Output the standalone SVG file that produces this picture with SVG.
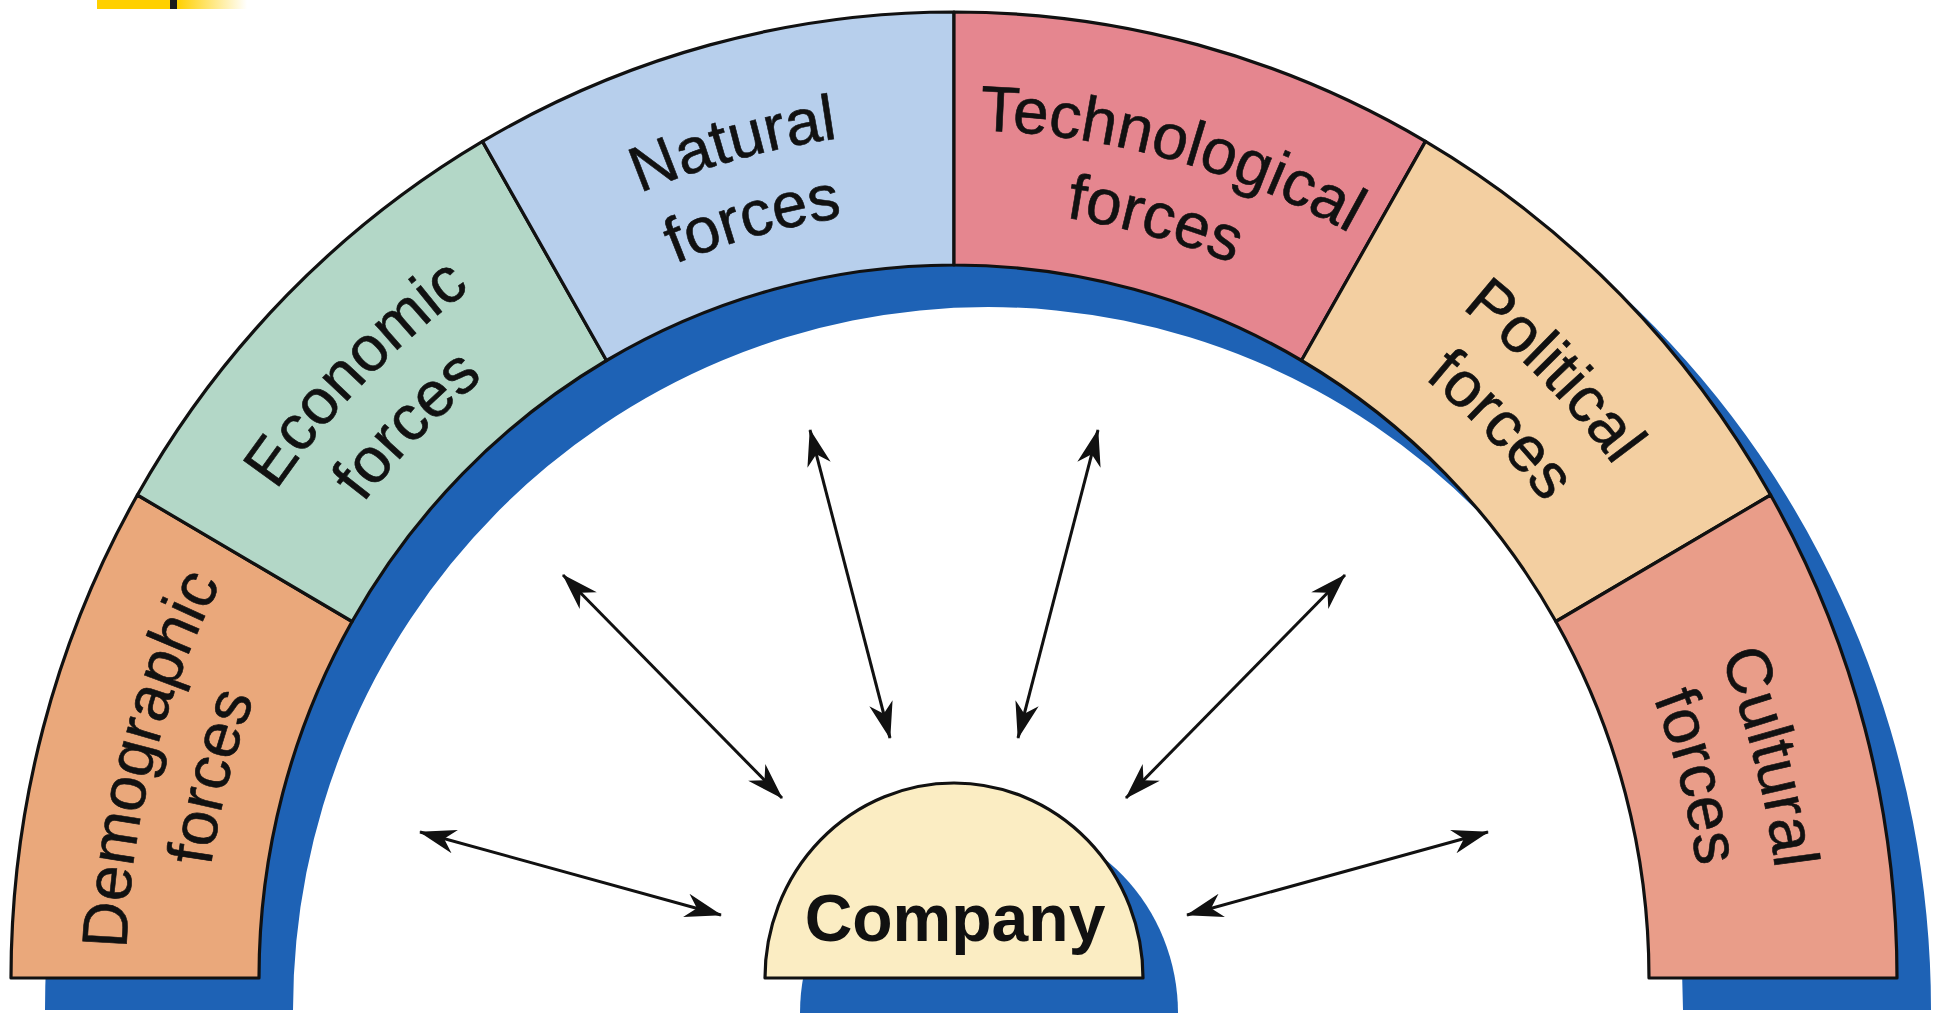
<svg xmlns="http://www.w3.org/2000/svg" width="1939" height="1013" viewBox="0 0 1939 1013">
<style>
.seg{stroke:#111;stroke-width:3.2;stroke-linejoin:round}
.lbl{font-family:"Liberation Sans",Arial,sans-serif;font-size:64px;fill:#111;stroke:#111;stroke-width:0.6}
.arrow{stroke:#111;stroke-width:3;fill:none;marker-start:url(#ah);marker-end:url(#ah)}
.shadow{fill:#1E62B5}
</style>
<defs>
<marker id="ah" markerUnits="userSpaceOnUse" markerWidth="44" markerHeight="30" viewBox="-40 -15 42 30" refX="0" refY="0" orient="auto-start-reverse" overflow="visible">
<path d="M1,0 L-36,-12 L-25,0 L-36,12 Z" fill="#111"/>
</marker>
<linearGradient id="fade" x1="0" y1="0" x2="1" y2="0">
<stop offset="0" stop-color="#FFD000"/>
<stop offset="1" stop-color="#FFFFFF"/>
</linearGradient>
<path id="a1-15" d="M236.9,1402 A828,848 0 0 1 540,243.6"/>
<path id="a2-15" d="M303.6,1362.5 A751,769 0 0 1 578.5,312"/>
<path id="a1-45" d="M126,978 A828,848 0 0 1 954,130"/>
<path id="a2-45" d="M203,978 A751,769 0 0 1 954,209"/>
<path id="a1-75" d="M236.9,554 A828,848 0 0 1 1368,243.6"/>
<path id="a2-75" d="M303.6,593.5 A751,769 0 0 1 1329.5,312"/>
<path id="a1-105" d="M540,243.6 A828,848 0 0 1 1671.1,554"/>
<path id="a2-105" d="M578.5,312 A751,769 0 0 1 1604.4,593.5"/>
<path id="a1-135" d="M954,130 A828,848 0 0 1 1782,978"/>
<path id="a2-135" d="M954,209 A751,769 0 0 1 1705,978"/>
<path id="a1-165" d="M1368,243.6 A828,848 0 0 1 1671.1,1402"/>
<path id="a2-165" d="M1329.5,312 A751,769 0 0 1 1604.4,1362.5"/>
</defs>
<rect width="1939" height="1013" fill="#FFFFFF"/>
<g id="corner-bar">
<rect x="97" y="0" width="73" height="9" fill="#FFD000"/>
<rect x="170" y="0" width="7" height="9" fill="#1C1C1C"/>
<rect x="177" y="0" width="70" height="9" fill="url(#fade)"/>
</g>
<g id="ring-shadow">
<path class="shadow" d="M45,1010 A943,966 0 0 1 1931,1010 L1683,1010 A695,703 0 0 0 293,1010 Z"/>
</g>
<g id="demographic">
<path class="seg" fill="#EAA87B" d="M11,978 A943,966 0 0 1 137.4,495 L352.1,621.5 A695,713 0 0 0 259,978 Z"/>
<text class="lbl"><textPath href="#a1-15" startOffset="50%" text-anchor="middle">Demographic</textPath></text>
<text class="lbl"><textPath href="#a2-15" startOffset="50%" text-anchor="middle">forces</textPath></text>
</g>
<g id="economic">
<path class="seg" fill="#B3D7C7" d="M137.4,495 A943,966 0 0 1 482.5,141.4 L606.5,360.5 A695,713 0 0 0 352.1,621.5 Z"/>
<text class="lbl"><textPath href="#a1-45" startOffset="50%" text-anchor="middle">Economic</textPath></text>
<text class="lbl"><textPath href="#a2-45" startOffset="50%" text-anchor="middle">forces</textPath></text>
</g>
<g id="natural">
<path class="seg" fill="#B7CFEC" d="M482.5,141.4 A943,966 0 0 1 954,12 L954,265 A695,713 0 0 0 606.5,360.5 Z"/>
<text class="lbl"><textPath href="#a1-75" startOffset="50%" text-anchor="middle">Natural</textPath></text>
<text class="lbl"><textPath href="#a2-75" startOffset="50%" text-anchor="middle">forces</textPath></text>
</g>
<g id="technological">
<path class="seg" fill="#E5868F" d="M954,12 A943,966 0 0 1 1425.5,141.4 L1301.5,360.5 A695,713 0 0 0 954,265 Z"/>
<text class="lbl"><textPath href="#a1-105" startOffset="50%" text-anchor="middle">Technological</textPath></text>
<text class="lbl"><textPath href="#a2-105" startOffset="50%" text-anchor="middle">forces</textPath></text>
</g>
<g id="political">
<path class="seg" fill="#F3CFA1" d="M1425.5,141.4 A943,966 0 0 1 1770.6,495 L1555.9,621.5 A695,713 0 0 0 1301.5,360.5 Z"/>
<text class="lbl"><textPath href="#a1-135" startOffset="50%" text-anchor="middle">Political</textPath></text>
<text class="lbl"><textPath href="#a2-135" startOffset="50%" text-anchor="middle">forces</textPath></text>
</g>
<g id="cultural">
<path class="seg" fill="#E99D89" d="M1770.6,495 A943,966 0 0 1 1897,978 L1649,978 A695,713 0 0 0 1555.9,621.5 Z"/>
<text class="lbl"><textPath href="#a1-165" startOffset="50%" text-anchor="middle">Cultural</textPath></text>
<text class="lbl"><textPath href="#a2-165" startOffset="50%" text-anchor="middle">forces</textPath></text>
</g>
<g id="company">
<path class="shadow" d="M800,1013 A189,195 0 0 1 1178,1013 Z"/>
<path class="seg" fill="#FBEDC3" d="M765,978 A189,195 0 0 1 1143,978 Z"/>
<text x="955" y="941" text-anchor="middle" font-family="'Liberation Sans',Arial,sans-serif" font-weight="bold" font-size="66" fill="#111">Company</text>
</g>
<g id="connectors">
<line class="arrow" x1="420" y1="832" x2="721" y2="915"/>
<line class="arrow" x1="563" y1="575" x2="782" y2="798"/>
<line class="arrow" x1="810" y1="430" x2="890" y2="738"/>
<line class="arrow" x1="1098" y1="430" x2="1018" y2="738"/>
<line class="arrow" x1="1345" y1="575" x2="1126" y2="798"/>
<line class="arrow" x1="1488" y1="832" x2="1187" y2="915"/>
</g>
</svg>
